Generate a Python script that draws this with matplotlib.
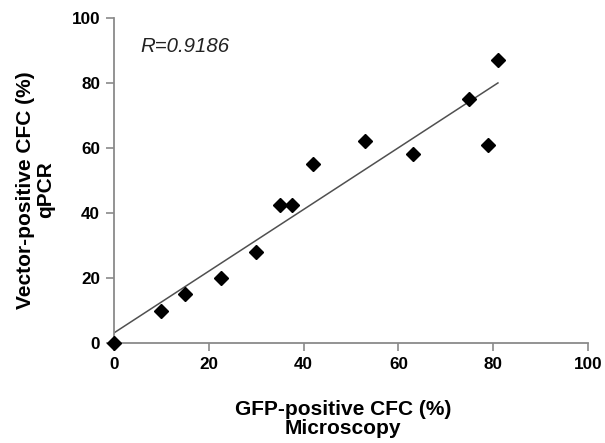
import numpy as np
import matplotlib
matplotlib.use("Agg")
import matplotlib.pyplot as plt

plt.rcParams['font.family'] = ['Liberation Sans', 'DejaVu Sans']

# GFP-positive CFC (%) by microscopy vs vector-positive CFC (%) by qPCR
microscopy = [0, 10, 15, 22.5, 30, 35, 37.5, 42, 53, 63, 75, 79, 81]
qpcr = [0, 10, 15, 20, 28, 42.5, 42.5, 55, 62, 58, 75, 61, 87]
ticks = [0, 20, 40, 60, 80, 100]
r_text = "R=0.9186"

x = np.array(microscopy)
y = np.array(qpcr)
slope, icpt = np.polyfit(x, y, 1)
xl = np.array([x.min(), x.max()])

fig = plt.figure(figsize=(6.05, 4.43), dpi=100)
ax = fig.add_axes([0.1884, 0.2257, 0.7835, 0.7337])

ax.plot(xl, slope * xl + icpt, color="#505050", linewidth=1.1, zorder=2)
ax.plot(x, y, linestyle="none", marker="D", markersize=7.5, color="black", zorder=3, clip_on=False)

ax.set_xlim(0, 100)
ax.set_ylim(0, 100)
ax.set_xticks(ticks)
ax.set_yticks(ticks)

for s in ["top", "right"]:
    ax.spines[s].set_visible(False)
for s in ["left", "bottom"]:
    ax.spines[s].set_color("#8a8a8a")
    ax.spines[s].set_linewidth(1.3)

ax.tick_params(direction="out", length=6, width=1.2, color="#8a8a8a", pad=4, labelsize=12.3)
for lab in ax.get_xticklabels() + ax.get_yticklabels():
    lab.set_fontweight("bold")

ax.text(5.5, 89.5, r_text, fontsize=14.7, fontstyle="italic", color="#222222")

ax.set_xlabel("GFP-positive CFC (%)\nMicroscopy", fontsize=15, fontweight="bold", linespacing=1.0)
ax.set_ylabel("Vector-positive CFC (%)\nqPCR", fontsize=15, fontweight="bold", linespacing=1.1)
ax.xaxis.set_label_coords(0.483, -0.174)
ax.yaxis.set_label_coords(-0.124, 0.471)

fig.savefig("out.png", dpi=100)
